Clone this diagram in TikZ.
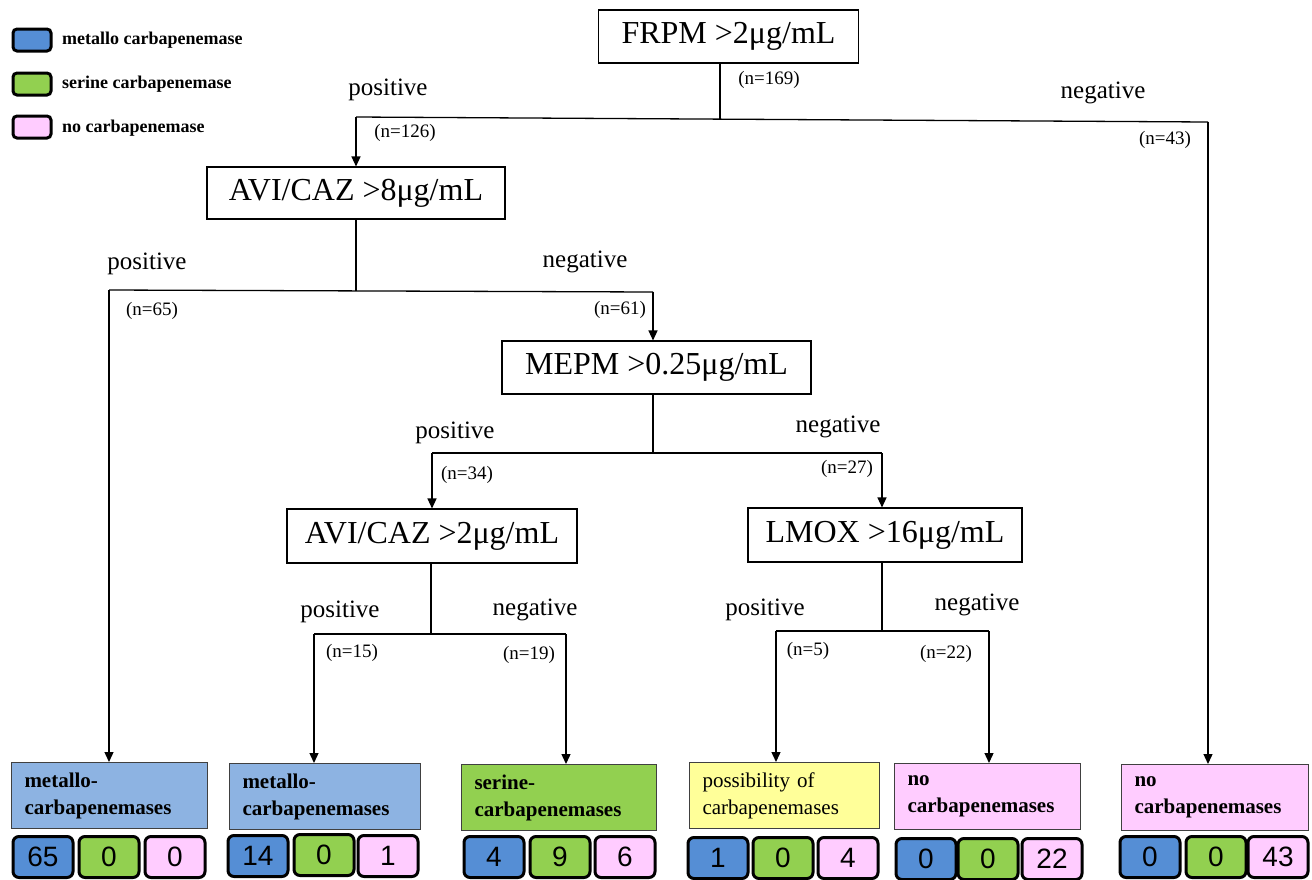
\documentclass[tikz,border=0pt]{standalone}
\usepackage{fontspec}
\setmainfont{Liberation Serif}
\newfontfamily\numfont{Liberation Sans}
\usetikzlibrary{arrows.meta}
\definecolor{mdark}{HTML}{558ED5}
\definecolor{mlight}{HTML}{8DB3E2}
\definecolor{sgreen}{HTML}{92D050}
\definecolor{npink}{HTML}{FFCCFF}
\definecolor{pyellow}{HTML}{FFFF99}
\definecolor{bordergray}{HTML}{404040}
\begin{document}
\begin{tikzpicture}[x=1pt,y=-1pt,
  dec/.style={draw, line width=1.1pt, inner sep=0pt, font=\fontsize{32}{38}\selectfont},
  conn/.style={line width=1.3pt},
  arr/.style={-{Triangle[width=9pt,length=10pt]}},
  lbl/.style={font=\fontsize{25}{30}\selectfont, inner sep=0pt},
  cnt/.style={font=\fontsize{19}{22}\selectfont, inner sep=0pt},
  resbox/.style={draw=bordergray, line width=1pt, minimum height=66pt, inner xsep=13pt, inner ysep=0pt, align=left, anchor=north west, font=\fontsize{21}{27}\selectfont},
  numbox/.style={draw=black, line width=3pt, rounded corners=6pt, minimum width=60pt, minimum height=41pt, inner sep=0pt, font=\numfont\fontsize{28}{32}\selectfont},
  legbox/.style={draw=black, line width=3pt, rounded corners=4pt, minimum width=38pt, minimum height=22pt, inner sep=0pt},
  legtxt/.style={anchor=west, inner sep=0pt, font=\bfseries\fontsize{18}{22}\selectfont}
]
\useasboundingbox (0,0) rectangle (1312,879);

% legend
\node[legbox, fill=mdark] (lg1) at (32,40) {};
\node[legtxt] (lt1) at (62,40) {metallo carbapenemase};
\node[legbox, fill=sgreen] (lg2) at (32,84) {};
\node[legtxt] (lt2) at (62,84) {serine carbapenemase};
\node[legbox, fill=npink] (lg3) at (32,127) {};
\node[legtxt] (lt3) at (62,128) {no carbapenemase};

% decision boxes
\node[dec, minimum width=260pt, minimum height=53pt] (frpm) at (728.5,36.5) {FRPM >2μg/mL\hspace{16pt}};
\node[dec, minimum width=298pt, minimum height=52pt] (avi8) at (356,193) {AVI/CAZ >8μg/mL\hspace{10pt}};
\node[dec, minimum width=309pt, minimum height=53pt] (mepm) at (656.5,367.5) {MEPM >0.25μg/mL\hspace{15pt}};
\node[dec, minimum width=290pt, minimum height=54pt] (avi2) at (432,536) {AVI/CAZ >2μg/mL\hspace{6pt}};
\node[dec, minimum width=274pt, minimum height=54pt] (lmox) at (885,535) {LMOX >16μg/mL\hspace{4pt}};

% result boxes
\node[resbox, fill=mlight, text width=170pt] (res1) at (11,762) {\textbf{metallo-}\\\textbf{carbapenemases}};
\node[resbox, fill=mlight, text width=165pt] (res2) at (229,763) {\textbf{metallo-}\\\textbf{carbapenemases}};
\node[resbox, fill=sgreen, text width=169pt] (res3) at (461,764) {\textbf{serine-}\\\textbf{carbapenemases}};
\node[resbox, fill=pyellow, text width=164pt] (res4) at (689,762) {possibility of\\carbapenemases};
\node[resbox, fill=npink, text width=160pt] (res5) at (894,763) {\textbf{no}\\\textbf{carbapenemases}};
\node[resbox, fill=npink, text width=161pt] (res6) at (1121,764) {\textbf{no}\\\textbf{carbapenemases}};

% count boxes
\node[numbox, fill=mdark] (c1a) at (43,857) {65};
\node[numbox, fill=sgreen] (c1b) at (109,857) {0};
\node[numbox, fill=npink] (c1c) at (175,857) {0};
\node[numbox, fill=mdark] (c2a) at (258,856) {14};
\node[numbox, fill=sgreen] (c2b) at (324,855) {0};
\node[numbox, fill=npink] (c2c) at (388,856) {1};
\node[numbox, fill=mdark] (c3a) at (494,857) {4};
\node[numbox, fill=sgreen] (c3b) at (560,857) {9};
\node[numbox, fill=npink] (c3c) at (625,857) {6};
\node[numbox, fill=mdark] (c4a) at (718,858) {1};
\node[numbox, fill=sgreen] (c4b) at (783,858) {0};
\node[numbox, fill=npink] (c4c) at (848,858) {4};
\node[numbox, fill=mdark] (c5a) at (926,859) {0};
\node[numbox, fill=sgreen] (c5b) at (988,859) {0};
\node[numbox, fill=npink] (c5c) at (1052,859) {22};
\node[numbox, fill=mdark] (c6a) at (1150,857) {0};
\node[numbox, fill=sgreen] (c6b) at (1216,857) {0};
\node[numbox, fill=npink] (c6c) at (1278,857) {43};

% level 1
\coordinate (j1) at (720,119.5);
\coordinate (l1) at (356,117);
\coordinate (r1) at (1208,122);
\draw[conn] (frpm.south -| j1) -- (j1);
\draw[conn] (l1) -- (r1);
\draw[conn,arr] (l1) -- (l1 |- avi8.north);
\draw[conn,arr] (r1) -- (r1 |- res6.north);
\node[cnt] (n169) at (769,80) {(n=169)};
\node[lbl] (p1) at (388,90) {positive};
\node[lbl] (g1) at (1103,93) {negative};
\node[cnt] (n126) at (405,133) {(n=126)};
\node[cnt] (n43) at (1165,140) {(n=43)};

% level 2
\coordinate (j2) at (356,291);
\coordinate (l2) at (109,290);
\coordinate (r2) at (653,292);
\draw[conn] (avi8.south) -- (j2);
\draw[conn] (l2) -- (r2);
\draw[conn,arr] (l2) -- (l2 |- res1.north);
\draw[conn,arr] (r2) -- (r2 |- mepm.north);
\node[lbl] (p2) at (147,264) {positive};
\node[lbl] (g2) at (585,262) {negative};
\node[cnt] (n65) at (152,311) {(n=65)};
\node[cnt] (n61) at (620,310) {(n=61)};

% level 3
\coordinate (j3) at (653,453);
\coordinate (l3) at (432,453);
\coordinate (r3) at (882,453);
\draw[conn] (mepm.south -| j3) -- (j3);
\draw[conn] (l3) -- (r3);
\draw[conn,arr] (l3) -- (l3 |- avi2.north);
\draw[conn,arr] (r3) -- (r3 |- lmox.north);
\node[lbl] (p3) at (455,433) {positive};
\node[lbl] (g3) at (838,427) {negative};
\node[cnt] (n34) at (467,475) {(n=34)};
\node[cnt] (n27) at (847,469) {(n=27)};

% level 4 left
\coordinate (j4) at (431,634);
\coordinate (l4) at (314,634);
\coordinate (r4) at (566,634);
\draw[conn] (avi2.south -| j4) -- (j4);
\draw[conn] (l4) -- (r4);
\draw[conn,arr] (l4) -- (l4 |- res2.north);
\draw[conn,arr] (r4) -- (r4 |- res3.north);
\node[lbl] (p4) at (340,612) {positive};
\node[lbl] (g4) at (535,610) {negative};
\node[cnt] (n15) at (352,653) {(n=15)};
\node[cnt] (n19) at (529,655) {(n=19)};

% level 4 right
\coordinate (j5) at (882,631);
\coordinate (l5) at (776,631);
\coordinate (r5) at (989,631);
\draw[conn] (lmox.south -| j5) -- (j5);
\draw[conn] (l5) -- (r5);
\draw[conn,arr] (l5) -- (l5 |- res4.north);
\draw[conn,arr] (r5) -- (r5 |- res5.north);
\node[lbl] (p5) at (765,610) {positive};
\node[lbl] (g5) at (977,605) {negative};
\node[cnt] (n5) at (808,651) {(n=5)};
\node[cnt] (n22) at (946,654) {(n=22)};
\end{tikzpicture}
\end{document}
